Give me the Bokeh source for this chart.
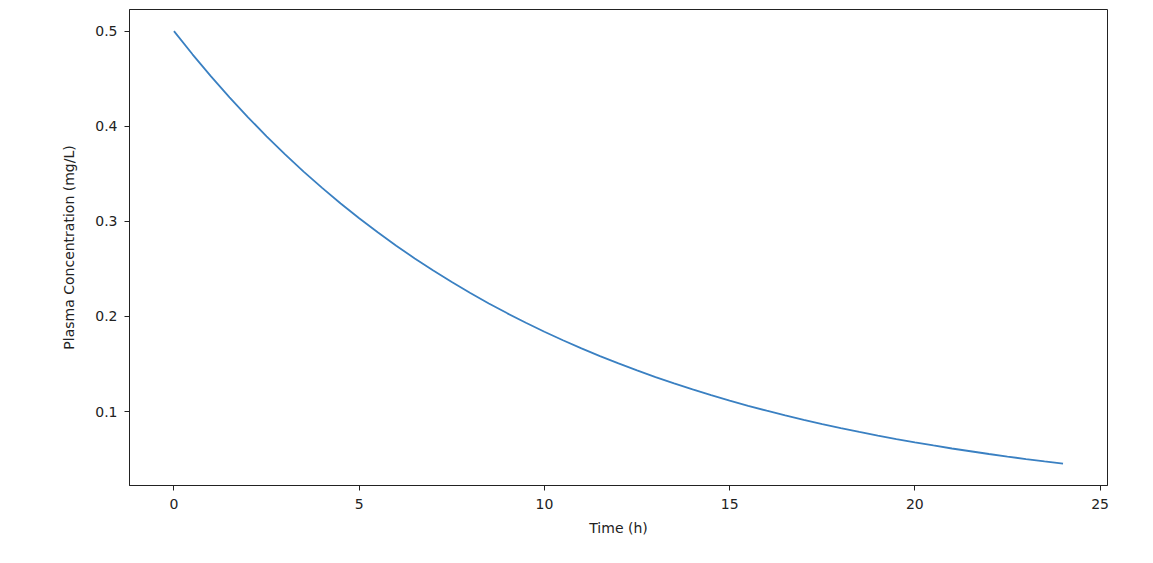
from bokeh.plotting import figure
from bokeh.models import Range1d, FixedTicker
from bokeh.embed import file_html
from bokeh.resources import INLINE

# Data (every half hour)
time_h = [0, 0.5, 1, 1.5, 2, 2.5, 3, 3.5, 4, 4.5, 5, 5.5, 6, 6.5, 7, 7.5, 8, 8.5, 9, 9.5,
          10, 10.5, 11, 11.5, 12, 12.5, 13, 13.5, 14, 14.5, 15, 15.5, 16, 16.5, 17, 17.5,
          18, 18.5, 19, 19.5, 20, 20.5, 21, 21.5, 22, 22.5, 23, 23.5, 24]
concentration = [0.5000, 0.4756, 0.4524, 0.4304, 0.4094, 0.3894, 0.3704, 0.3523, 0.3352, 0.3188,
                 0.3033, 0.2885, 0.2744, 0.2610, 0.2483, 0.2362, 0.2247, 0.2137, 0.2033, 0.1934,
                 0.1839, 0.1750, 0.1664, 0.1583, 0.1506, 0.1433, 0.1363, 0.1296, 0.1233, 0.1173,
                 0.1116, 0.1061, 0.1009, 0.0960, 0.0913, 0.0869, 0.0826, 0.0786, 0.0748, 0.0711,
                 0.0677, 0.0644, 0.0612, 0.0583, 0.0554, 0.0527, 0.0501, 0.0477, 0.0454]
x_ticks = [0, 5, 10, 15, 20, 25]
y_ticks = [0.1, 0.2, 0.3, 0.4, 0.5]
y_tick_labels = ["0.1", "0.2", "0.3", "0.4", "0.5"]

FONT = "DejaVu Sans"

p = figure(width=1138, height=555, output_backend="svg", toolbar_location=None,
           x_range=Range1d(-1.2, 25.2), y_range=Range1d(0.0223, 0.5227),
           min_border_left=129, min_border_right=31, min_border_top=9, min_border_bottom=70)

p.line(time_h, concentration, line_color="#3a80c2", line_width=1.8)

p.xgrid.visible = False
p.ygrid.visible = False
p.outline_line_color = "#222222"
p.outline_line_width = 1
p.outline_line_alpha = 1
p.background_fill_color = "white"
p.border_fill_color = "white"

p.xaxis.ticker = FixedTicker(ticks=x_ticks)
p.yaxis.ticker = FixedTicker(ticks=y_ticks)
p.yaxis.major_label_overrides = {t: l for t, l in zip(y_ticks, y_tick_labels)}
p.xaxis.axis_label = "Time (h)"
p.yaxis.axis_label = "Plasma Concentration (mg/L)"

for ax in (p.xaxis[0], p.yaxis[0]):
    ax.axis_line_color = "#222222"
    ax.major_tick_line_color = "#222222"
    ax.minor_tick_line_color = None
    ax.major_tick_in = 0
    ax.major_tick_out = 5
    ax.major_label_text_font = FONT
    ax.major_label_text_font_size = "14px"
    ax.major_label_text_color = "#222222"
    ax.axis_label_text_font = FONT
    ax.axis_label_text_font_size = "14px"
    ax.axis_label_text_font_style = "normal"
    ax.axis_label_text_color = "#222222"

p.xaxis.major_label_standoff = 8
p.xaxis.axis_label_standoff = 8
p.yaxis.major_label_standoff = 7
p.yaxis.axis_label_standoff = 15

open("out.html", "w").write(file_html(p, INLINE))
